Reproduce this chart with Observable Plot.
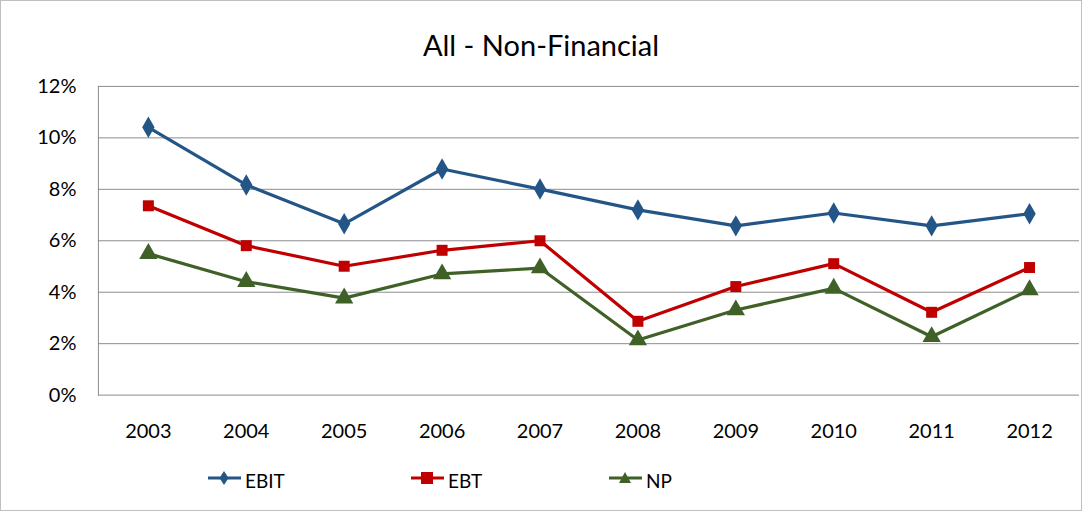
<!DOCTYPE html>
<html>
<head>
<meta charset="utf-8">
<script src="https://cdn.jsdelivr.net/npm/d3@7"></script>
<script src="https://cdn.jsdelivr.net/npm/@observablehq/plot@0.6"></script>
<style>
  body { margin: 0; background: #fff; }
  #wrap { position: relative; width: 1080px; height: 509px; border: 1px solid #bfbfbf; background: #fff; font-family: Lato, "Open Sans", sans-serif; overflow: hidden; }
  #title { position: absolute; left: 0; right: 0; top: 26px; text-align: center; font-size: 29px; color: #000; }
  #chart { position: absolute; left: -1px; top: -1px; }
  #legend { position: absolute; top: 466px; left: 0; width: 1080px; height: 26px; font-size: 19px; }
  .item { position: absolute; top: 0; display: flex; align-items: center; height: 26px; }
  .item svg { margin-right: 3px; }
</style>
</head>
<body>
<div id="wrap">
  <div id="title">All - Non-Financial</div>
  <div id="chart"></div>
  <div id="legend"></div>
</div>
<script>
const years = ["2003","2004","2005","2006","2007","2008","2009","2010","2011","2012"];
const ebit = [10.41, 8.17, 6.66, 8.79, 8.01, 7.20, 6.58, 7.08, 6.58, 7.05];
const ebt  = [7.36, 5.81, 5.01, 5.63, 6.00, 2.87, 4.22, 5.11, 3.22, 4.96];
const np   = [5.50, 4.41, 3.77, 4.71, 4.94, 2.14, 3.31, 4.15, 2.27, 4.09];
const yTicks = [0, 2, 4, 6, 8, 10, 12];
const seriesNames = ["EBIT", "EBT", "NP"];
const seriesColors = ["#245587", "#C00000", "#3F6128"];

const rows = [];
[ebit, ebt, np].forEach((vals, i) => {
  vals.forEach((v, j) => rows.push({series: seriesNames[i], year: years[j], value: v}));
});

const plot = Plot.plot({
  width: 1082,
  height: 470,
  marginTop: 86,
  marginBottom: 75,
  marginLeft: 98,
  marginRight: 2,
  style: {fontFamily: "Lato, 'Open Sans', sans-serif", fontSize: "20px", color: "#000", background: "transparent", overflow: "visible"},
  x: {type: "point", domain: years, padding: 0.5, label: null},
  y: {domain: [0, 12], label: null},
  color: {domain: seriesNames, range: seriesColors},
  symbol: {domain: seriesNames, range: ["diamond", "square", "triangle"]},
  marks: [
    Plot.ruleY(yTicks, {stroke: "#8c8c8c", strokeWidth: 1}),
    Plot.frame({anchor: "left", stroke: "#8c8c8c", strokeWidth: 1}),
    Plot.axisY({ticks: yTicks, tickSize: 0, tickPadding: 22, tickFormat: d => d + "%", fill: "#000"}),
    Plot.axisX({tickSize: 0, tickPadding: 29, fill: "#000"}),
    Plot.line(rows, {x: "year", y: "value", z: "series", stroke: "series", strokeWidth: 3.2}),
    Plot.dot(rows.filter(d => d.series === "EBIT"), {x: "year", y: "value", symbol: "series", fill: "series", r: 6.5, stroke: "none"}),
    Plot.dot(rows.filter(d => d.series === "EBT"), {x: "year", y: "value", symbol: "series", fill: "series", r: 6.2, stroke: "none"}),
    Plot.dot(rows.filter(d => d.series === "NP"), {x: "year", y: "value", symbol: "series", fill: "series", r: 6.8, stroke: "none"})
  ]
});
document.getElementById("chart").appendChild(plot);

// Legend
const legendX = [206, 409, 607];
const legend = document.getElementById("legend");
seriesNames.forEach((name, i) => {
  const item = document.createElement("div");
  item.className = "item";
  item.style.left = legendX[i] + "px";
  const c = seriesColors[i];
  let marker;
  if (i === 0) marker = `<path d="M17,11 L21.5,18 L17,25 L12.5,18 Z" fill="${c}"/>`;
  else if (i === 1) marker = `<rect x="11" y="12" width="12" height="12" fill="${c}"/>`;
  else marker = `<path d="M17,12 L23,23 L11,23 Z" fill="${c}"/>`;
  item.innerHTML = `<svg width="35" height="36" viewBox="0 0 35 36" style="margin-top:-5px"><line x1="1" y1="18" x2="34" y2="18" stroke="${c}" stroke-width="3.2"/>${marker}</svg><span>${name}</span>`;
  legend.appendChild(item);
});
</script>
</body>
</html>
